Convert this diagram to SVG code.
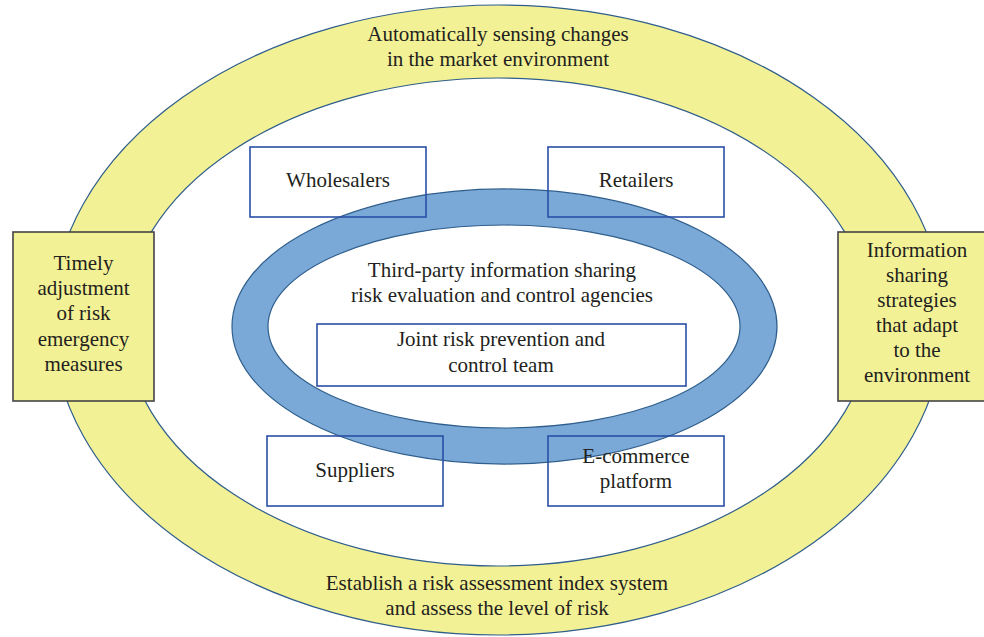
<svg xmlns="http://www.w3.org/2000/svg" width="984" height="637" viewBox="0 0 984 637">
<style>
text{font-family:'Liberation Serif','Times New Roman','DejaVu Serif',serif;font-size:21px;fill:#231F20;text-anchor:middle}
.ring{stroke:#2F5E8C;stroke-width:1.2;fill-rule:evenodd}
.y{fill:#F3F195}
.b{fill:#7BA9D7}
.box{fill:none;stroke:#2A4FA6;stroke-width:1.6}
.ybox{fill:#F3F195;stroke:#444;stroke-width:1.6}
</style>
<rect width="984" height="637" fill="#fff"/>
<g id="outer-ring" font-family="Liberation Serif, serif">
<path class="ring y" d="M52,320 a446,315 0 1,0 892,0 a446,315 0 1,0 -892,0 Z M125,322 a373,244 0 1,0 746,0 a373,244 0 1,0 -746,0 Z"/>
<text x="498" y="41">Automatically sensing changes</text>
<text x="498" y="66">in the market environment</text>
<text x="497" y="590">Establish a risk assessment index system</text>
<text x="497" y="615">and assess the level of risk</text>
</g>
<g id="inner-ring">
<path class="ring b" d="M232,326.5 a272.5,137.5 0 1,0 545,0 a272.5,137.5 0 1,0 -545,0 Z M268,326.5 a236,101.5 0 1,0 472,0 a236,101.5 0 1,0 -472,0 Z"/>
<text x="502" y="277">Third-party information sharing</text>
<text x="502" y="302">risk evaluation and control agencies</text>
</g>
<g id="connectors"></g>
<g id="wholesalers">
<rect class="box" x="250" y="147" width="176" height="70"/>
<text x="338" y="187">Wholesalers</text>
</g>
<g id="retailers">
<rect class="box" x="548" y="147" width="176" height="70"/>
<text x="636" y="187">Retailers</text>
</g>
<g id="joint-team">
<rect class="box" x="317" y="324" width="369" height="62"/>
<text x="501" y="346">Joint risk prevention and</text>
<text x="501" y="372">control team</text>
</g>
<g id="suppliers">
<rect class="box" x="267" y="436" width="176" height="70"/>
<text x="355" y="477">Suppliers</text>
</g>
<g id="ecommerce">
<rect class="box" x="548" y="436" width="176" height="70"/>
<text x="636" y="463">E-commerce</text>
<text x="636" y="488">platform</text>
</g>
<g id="left-box">
<rect class="ybox" x="13" y="232" width="141" height="169"/>
<text x="83.5" y="270">Timely</text>
<text x="83.5" y="295">adjustment</text>
<text x="83.5" y="320">of risk</text>
<text x="83.5" y="346">emergency</text>
<text x="83.5" y="371">measures</text>
</g>
<g id="right-box">
<rect class="ybox" x="838" y="232" width="158" height="169"/>
<text x="917" y="257">Information</text>
<text x="917" y="282">sharing</text>
<text x="917" y="307">strategies</text>
<text x="917" y="332">that adapt</text>
<text x="917" y="357">to the</text>
<text x="917" y="382">environment</text>
</g>
</svg>
